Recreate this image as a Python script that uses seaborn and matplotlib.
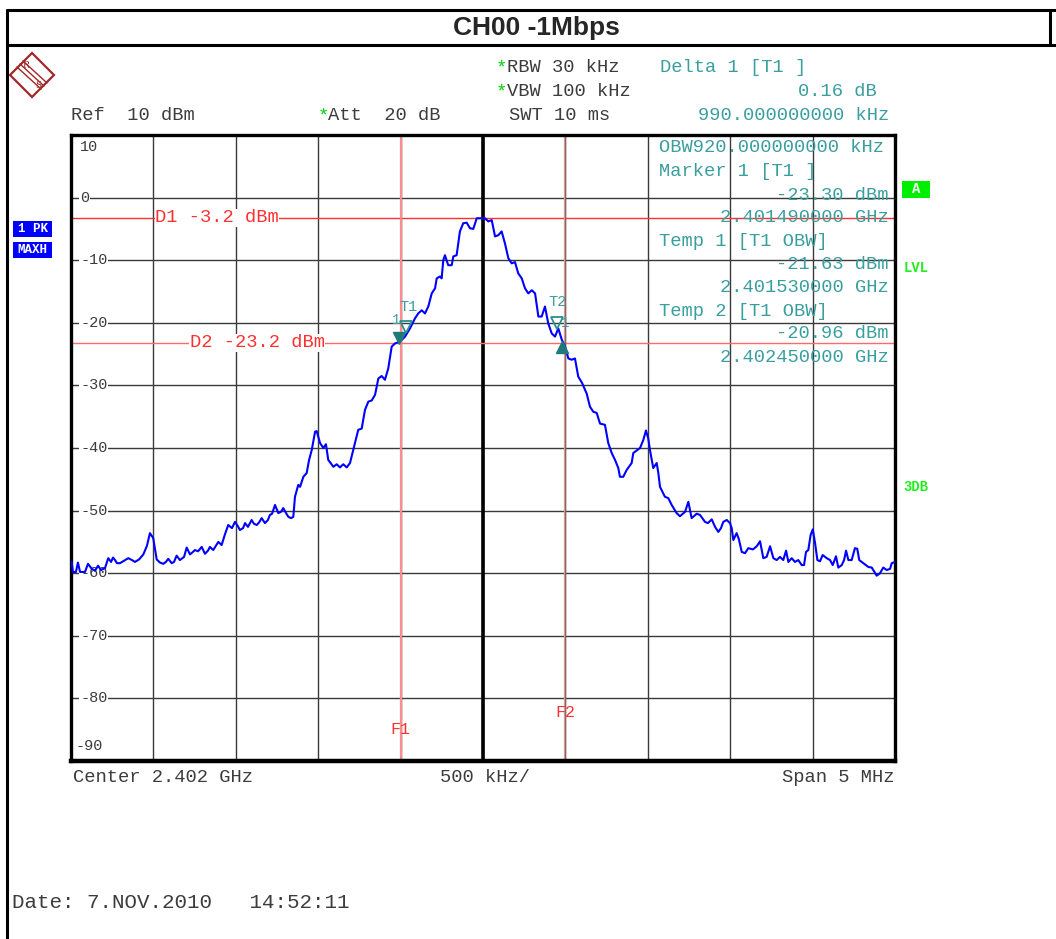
import numpy as np
import matplotlib
matplotlib.use("Agg")
import matplotlib.pyplot as plt
import matplotlib.transforms as mtransforms
from matplotlib.lines import Line2D
from matplotlib.patches import Polygon, Rectangle
import seaborn as sns

# trace data (offset from centre in MHz, level in dBm)
freq_offset_mhz = [
    -2.496, -2.488, -2.470, -2.458, -2.445, -2.415, -2.397, -2.374, -2.354, -2.336,
    -2.318, -2.294, -2.274, -2.257, -2.245, -2.233, -2.221, -2.203, -2.178, -2.152,
    -2.130, -2.112, -2.087, -2.061, -2.039, -2.021, -2.001, -1.980, -1.960, -1.940,
    -1.924, -1.910, -1.889, -1.875, -1.859, -1.839, -1.814, -1.798, -1.778, -1.760,
    -1.748, -1.729, -1.707, -1.687, -1.669, -1.657, -1.637, -1.620, -1.606, -1.586,
    -1.566, -1.546, -1.523, -1.505, -1.487, -1.475, -1.456, -1.444, -1.426, -1.404,
    -1.390, -1.373, -1.359, -1.343, -1.323, -1.305, -1.293, -1.280, -1.262, -1.242,
    -1.226, -1.212, -1.195, -1.181, -1.165, -1.151, -1.141, -1.121, -1.110, -1.090,
    -1.070, -1.056, -1.039, -1.019, -1.009, -0.989, -0.969, -0.953, -0.939, -0.908,
    -0.888, -0.868, -0.848, -0.827, -0.807, -0.787, -0.757, -0.736, -0.716, -0.696,
    -0.675, -0.655, -0.635, -0.615, -0.595, -0.575, -0.554, -0.534, -0.504, -0.473,
    -0.443, -0.413, -0.393, -0.372, -0.352, -0.332, -0.311, -0.291, -0.281, -0.261,
    -0.251, -0.241, -0.231, -0.211, -0.190, -0.180, -0.160, -0.150, -0.140, -0.120,
    -0.099, -0.079, -0.059, -0.038, -0.008, 0.012, 0.032, 0.053, 0.073, 0.093,
    0.113, 0.133, 0.154, 0.174, 0.194, 0.214, 0.235, 0.255, 0.275, 0.296,
    0.316, 0.336, 0.356, 0.376, 0.396, 0.417, 0.437, 0.457, 0.478, 0.498,
    0.518, 0.538, 0.558, 0.578, 0.601, 0.629, 0.649, 0.669, 0.690, 0.710,
    0.740, 0.760, 0.781, 0.801, 0.821, 0.831, 0.851, 0.872, 0.902, 0.912,
    0.953, 0.973, 0.989, 1.003, 1.013, 1.033, 1.054, 1.064, 1.074, 1.104,
    1.124, 1.145, 1.175, 1.195, 1.226, 1.246, 1.266, 1.297, 1.317, 1.347,
    1.365, 1.388, 1.408, 1.428, 1.444, 1.458, 1.479, 1.499, 1.509, 1.519,
    1.539, 1.553, 1.570, 1.590, 1.610, 1.638, 1.661, 1.681, 1.701, 1.721,
    1.742, 1.762, 1.782, 1.802, 1.822, 1.839, 1.853, 1.873, 1.893, 1.913,
    1.934, 1.948, 1.960, 1.974, 1.988, 2.001, 2.015, 2.029, 2.045, 2.061,
    2.086, 2.106, 2.122, 2.142, 2.156, 2.177, 2.191, 2.203, 2.217, 2.237,
    2.257, 2.271, 2.283, 2.308, 2.338, 2.359, 2.368, 2.389, 2.409, 2.429,
    2.450, 2.470, 2.480, 2.500,
]
level_dbm = [
    -58.2, -59.8, -59.8, -58.3, -59.8, -59.8, -58.5, -59.3, -59.6, -58.8,
    -59.5, -59.2, -57.6, -58.2, -57.5, -57.9, -58.4, -58.4, -58.0, -57.6,
    -57.9, -58.2, -57.8, -57.0, -55.6, -53.6, -54.4, -57.8, -58.3, -58.5,
    -58.2, -57.7, -58.4, -58.2, -57.2, -57.9, -57.4, -55.9, -57.0, -56.6,
    -56.3, -56.5, -55.8, -56.9, -56.4, -55.8, -56.3, -55.6, -55.0, -55.5,
    -53.8, -52.3, -52.8, -51.8, -52.5, -53.1, -52.8, -52.0, -52.6, -51.5,
    -52.1, -52.3, -51.9, -51.2, -52.0, -51.5, -50.7, -50.5, -49.1, -50.4,
    -50.2, -49.6, -50.4, -51.0, -51.2, -51.0, -47.8, -45.9, -46.2, -44.6,
    -44.0, -42.0, -40.3, -37.4, -37.3, -39.2, -40.0, -39.4, -41.9, -43.0,
    -42.6, -43.1, -42.6, -43.1, -42.4, -40.3, -37.1, -36.9, -33.9, -32.6,
    -32.4, -31.5, -28.9, -28.5, -29.1, -27.3, -23.8, -23.3, -23.0, -22.2,
    -20.9, -19.3, -18.5, -18.0, -18.5, -17.4, -15.3, -14.5, -12.9, -12.6,
    -12.9, -10.0, -9.2, -10.8, -10.8, -9.4, -9.2, -7.3, -5.4, -4.1,
    -4.0, -4.9, -5.0, -3.3, -3.3, -3.3, -3.8, -3.6, -6.2, -6.0,
    -5.4, -7.3, -9.7, -10.5, -10.3, -12.1, -12.9, -14.5, -15.3, -14.8,
    -15.3, -19.0, -19.0, -17.4, -20.1, -21.7, -22.2, -20.9, -22.7, -23.8,
    -25.7, -25.9, -25.7, -28.6, -29.6, -31.3, -33.4, -34.2, -34.4, -36.1,
    -36.3, -39.2, -40.8, -41.9, -43.2, -44.6, -44.6, -43.5, -42.4, -40.8,
    -40.0, -38.7, -37.2, -38.5, -40.3, -43.2, -42.4, -44.0, -46.2, -47.8,
    -48.0, -49.1, -50.4, -50.9, -50.2, -48.6, -51.2, -50.5, -50.7, -51.8,
    -52.0, -51.4, -52.6, -53.4, -52.8, -51.8, -51.5, -52.0, -52.8, -54.7,
    -53.6, -54.6, -56.6, -56.8, -56.0, -56.2, -55.7, -54.9, -57.6, -57.4,
    -55.7, -57.6, -57.9, -57.4, -57.9, -56.4, -58.2, -57.6, -58.2, -57.9,
    -58.7, -58.7, -56.6, -56.3, -53.9, -53.0, -55.2, -57.9, -58.1, -57.1,
    -57.6, -57.9, -58.7, -57.3, -59.1, -58.7, -57.9, -56.4, -57.9, -57.9,
    -56.0, -56.1, -57.9, -58.4, -59.0, -59.1, -59.5, -60.4, -60.0, -59.1,
    -59.5, -59.3, -58.4, -58.2,
]

center_ghz = 2.402
span_mhz = 5.0
ref_level = 10
level_ticks = [10, 0, -10, -20, -30, -40, -50, -60, -70, -80, -90]

d1_level, d2_level = -3.2, -23.2
f1_ghz, f2_ghz = 2.4015, 2.4025
m1_ghz, m1_level = 2.401490, -23.30
temp1_ghz, temp1_level = 2.401530, -21.63
temp2_ghz, temp2_level = 2.402450, -20.96
delta1_khz, delta1_db = 990.0, 0.16

W, H = 1056, 939
MONO = "Liberation Mono"
GRAY = "#3c3c3c"
TEAL = "#3a9e9e"
RED = "#ff3030"
PINK = "#ff8c8c"


def fx(x):
    return x / W


def fy(y):
    return 1 - y / H


sns.set_style("white")
plt.rcParams["font.family"] = ["Liberation Mono", "DejaVu Sans Mono"]

fig = plt.figure(figsize=(W / 100, H / 100), dpi=100)

# outer frame and title box
for xs, ys in [([7, 7], [10, H]), ([7, W], [10, 10]), ([7, W], [45, 45]), ([1050, 1050], [10, 45])]:
    fig.add_artist(Line2D([fx(v) for v in xs], [fy(v) for v in ys], color="black", lw=2.2))
fig.text(fx(536), fy(28), "CH00 -1Mbps", family="Liberation Sans", weight="bold",
         fontsize=19, ha="center", va="center")

# R&S logo
logo = [(10, 75), (32, 53), (54, 75), (32, 97)]
fig.add_artist(Polygon([(fx(a), fy(b)) for a, b in logo], closed=True, fill=False,
                       edgecolor="#a02828", lw=1.6, transform=fig.transFigure))
for d in (-3, 0, 3):
    fig.add_artist(Line2D([fx(20 + d), fx(44 + d)], [fy(64 - d), fy(86 - d)], color="#a02828", lw=1.0))
fig.text(fx(26), fy(66), "R", color="#a02828", fontsize=8, family="Liberation Serif", ha="center", va="center")
fig.text(fx(38), fy(85), "S", color="#a02828", fontsize=8, family="Liberation Serif", ha="center", va="center")

# header settings
hdr = dict(fontsize=13.5, family=MONO, va="center")
for x, y, s in [(496, 68, "*"), (496, 92, "*"), (318, 116, "*")]:
    fig.text(fx(x), fy(y), s, color="#00cc00", ha="left", **hdr)
fig.text(fx(507), fy(68), "RBW 30 kHz", color=GRAY, ha="left", **hdr)
fig.text(fx(507), fy(92), "VBW 100 kHz", color=GRAY, ha="left", **hdr)
fig.text(fx(71), fy(116), "Ref  %d dBm" % ref_level, color=GRAY, ha="left", **hdr)
fig.text(fx(328), fy(116), "Att  20 dB", color=GRAY, ha="left", **hdr)
fig.text(fx(509), fy(116), "SWT 10 ms", color=GRAY, ha="left", **hdr)
fig.text(fx(660), fy(68), "Delta 1 [T1 ]", color=TEAL, ha="left", **hdr)
fig.text(fx(877), fy(92), "%.2f dB" % delta1_db, color=TEAL, ha="right", **hdr)
fig.text(fx(889), fy(116), "%.9f kHz" % delta1_khz, color=TEAL, ha="right", **hdr)

# trace window
ax = fig.add_axes([fx(71), fy(761), 824 / W, 626 / H])
half = span_mhz / 2
ax.set_xlim(-half, half)
ax.set_ylim(level_ticks[-1], level_ticks[0])
ax.set_xticks(np.arange(-half, half + 0.01, span_mhz / 10))
ax.set_yticks(level_ticks)
ax.tick_params(length=0, labelbottom=False, labelleft=False)
ax.grid(True, color="#3a3a3a", lw=1.0)
for sp in ax.spines.values():
    sp.set_color("black")
    sp.set_linewidth(2.4)
ax.spines["bottom"].set_linewidth(3.2)
ax.axvline(0, color="black", lw=2.6, zorder=2)

ax.axhline(d1_level, color=RED, lw=1.0, zorder=2)
ax.axhline(d2_level, color="#ff6a6a", lw=1.0, zorder=2)
f1 = (f1_ghz - center_ghz) * 1000
f2 = (f2_ghz - center_ghz) * 1000
ax.axvline(f1, color=PINK, lw=1.6, zorder=2)
ax.axvline(f2, color=PINK, lw=1.6, zorder=2)
ax.axvline(f2, color="#707070", lw=0.8, zorder=2)

sns.lineplot(x=freq_offset_mhz, y=level_dbm, ax=ax, color="#0000ff", lw=1.5,
             estimator=None, sort=False, zorder=4)

ytrans = ax.get_yaxis_transform()
for v in level_ticks:
    if v == level_ticks[0]:
        ax.text(0.011, v - 1.9, "%d" % v, transform=ytrans, fontsize=11, color=GRAY, family=MONO,
                ha="left", va="center", zorder=3)
    elif v == level_ticks[-1]:
        ax.text(0.005, v + 1.3, "%d" % v, transform=ytrans, fontsize=11, color=GRAY, family=MONO,
                ha="left", va="bottom", zorder=3)
    else:
        ax.text(0.011, v, "%d" % v, transform=ytrans, fontsize=11, color=GRAY, family=MONO,
                ha="left", va="center", zorder=3,
                bbox=dict(facecolor="white", edgecolor="none", pad=0.5))

lbl_box = dict(facecolor="white", edgecolor="none", pad=0.3)
ax.text(-1.99, d1_level, "D1 %.1f dBm" % d1_level, color=RED, fontsize=13.5, family=MONO,
        ha="left", va="center", bbox=lbl_box, zorder=3)
ax.text(-1.78, d2_level, "D2 %.1f dBm" % d2_level, color=RED, fontsize=13.5, family=MONO,
        ha="left", va="center", bbox=lbl_box, zorder=3)
ax.text(f1, -85.0, "F1", color=RED, fontsize=12, family=MONO, ha="center", va="center", zorder=3)
ax.text(f2, -82.2, "F2", color=RED, fontsize=12, family=MONO, ha="center", va="center", zorder=3)

# markers
up = mtransforms.offset_copy(ax.transData, fig=fig, x=0, y=4.2, units="points")
down = mtransforms.offset_copy(ax.transData, fig=fig, x=0, y=-3.6, units="points")
m1x = (m1_ghz - center_ghz) * 1000
t1x = (temp1_ghz - center_ghz) * 1000
t2x = (temp2_ghz - center_ghz) * 1000
dx = m1x + delta1_khz / 1000
dy = m1_level + delta1_db
ax.plot([m1x], [m1_level], marker="v", ms=9, color="#1f7a7a", transform=up, zorder=6)
ax.plot([t1x, t2x], [temp1_level, temp2_level], ls="none", marker="v", ms=9, mfc="none",
        mec="#2a8f8f", mew=1.3, transform=up, zorder=6)
ax.plot([dx], [dy], marker="^", ms=9, color="#1f7a7a", transform=down, zorder=6)
ax.annotate("T1", (t1x, temp1_level), xytext=(2, 14), textcoords="offset points",
            color=TEAL, fontsize=11, family=MONO, ha="center", va="bottom", zorder=6)
ax.annotate("1", (m1x, m1_level), xytext=(-2, 12), textcoords="offset points",
            color=TEAL, fontsize=10, family=MONO, ha="center", va="bottom", zorder=5)
ax.annotate("T2", (t2x, temp2_level), xytext=(0, 14), textcoords="offset points",
            color=TEAL, fontsize=11, family=MONO, ha="center", va="bottom", zorder=6)
ax.annotate("1", (dx, dy), xytext=(2, 9), textcoords="offset points",
            color=TEAL, fontsize=10, family=MONO, ha="center", va="bottom", zorder=5)

# marker readout block
obw_khz = (temp2_ghz - temp1_ghz) * 1e6
rd = dict(color=TEAL, fontsize=13.5, family=MONO, va="center", zorder=7)
fig.text(fx(659), fy(148), "OBW%.9f kHz" % obw_khz, ha="left", **rd)
fig.text(fx(659), fy(172), "Marker 1 [T1 ]", ha="left", **rd)
fig.text(fx(889), fy(195), "%.2f dBm" % m1_level, ha="right", **rd)
fig.text(fx(889), fy(218), "%.9f GHz" % m1_ghz, ha="right", **rd)
fig.text(fx(659), fy(241), "Temp 1 [T1 OBW]", ha="left", **rd)
fig.text(fx(889), fy(265), "%.2f dBm" % temp1_level, ha="right", **rd)
fig.text(fx(889), fy(288), "%.9f GHz" % temp1_ghz, ha="right", **rd)
fig.text(fx(659), fy(311), "Temp 2 [T1 OBW]", ha="left", **rd)
fig.text(fx(889), fy(334), "%.2f dBm" % temp2_level, ha="right", **rd)
fig.text(fx(889), fy(357), "%.9f GHz" % temp2_ghz, ha="right", **rd)

# side badges
for y, s in [(229, "1 PK"), (250, "MAXH")]:
    fig.add_artist(Rectangle((fx(13), fy(y + 8)), 39 / W, 16 / H, transform=fig.transFigure,
                             facecolor="#0000ff", edgecolor="none"))
    fig.text(fx(32.5), fy(y), s, color="white", fontsize=9, weight="bold", family=MONO,
             ha="center", va="center")
fig.add_artist(Rectangle((fx(902), fy(198)), 28 / W, 17 / H, transform=fig.transFigure,
                         facecolor="#00ee00", edgecolor="none"))
fig.text(fx(916), fy(189), "A", color="white", fontsize=10, weight="bold", family=MONO,
         ha="center", va="center")
fig.text(fx(916), fy(268), "LVL", color="#22ee22", fontsize=10, weight="bold", family=MONO,
         ha="center", va="center")
fig.text(fx(916), fy(487), "3DB", color="#22ee22", fontsize=10, weight="bold", family=MONO,
         ha="center", va="center")

# footer
ft = dict(fontsize=13.5, family=MONO, color=GRAY, va="center")
fig.text(fx(73), fy(778), "Center %.3f GHz" % center_ghz, ha="left", **ft)
fig.text(fx(485), fy(778), "%d kHz/" % (span_mhz * 100), ha="center", **ft)
fig.text(fx(894), fy(778), "Span %d MHz" % span_mhz, ha="right", **ft)
fig.text(fx(12), fy(903), "Date: 7.NOV.2010   14:52:11", fontsize=15, family=MONO,
         color=GRAY, ha="left", va="center")

fig.savefig("out.png", dpi=100, facecolor="white")
